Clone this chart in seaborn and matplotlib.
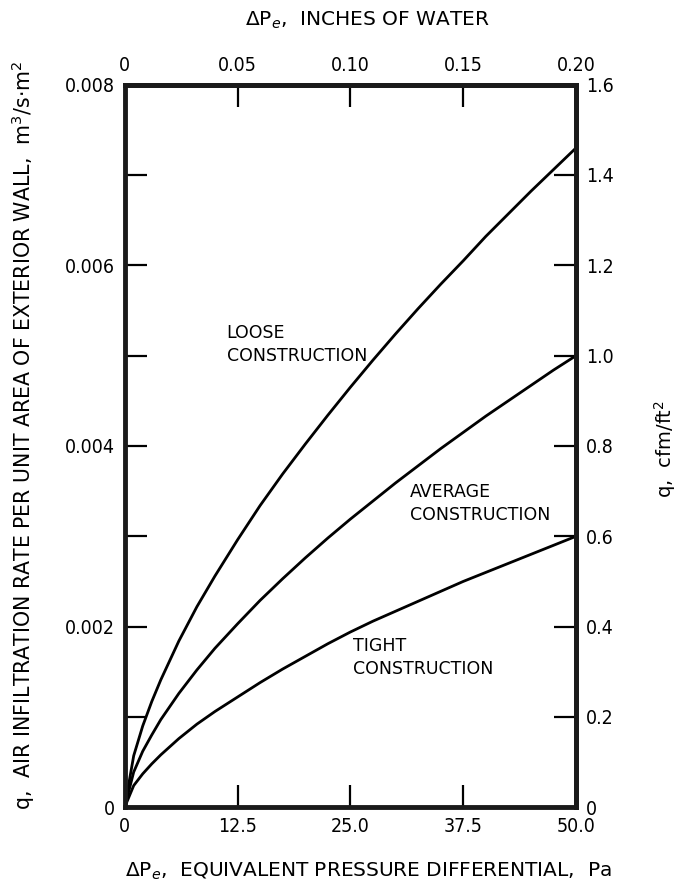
import numpy as np
import pandas as pd
import seaborn as sns
import matplotlib.pyplot as plt

# pressure differential, Pa
dp = [0, 1, 2, 3, 4, 6, 8, 10, 12.5, 15, 17.5, 20, 22.5, 25, 27.5, 30, 32.5, 35, 37.5, 40, 42.5, 45, 47.5, 50]
# air infiltration rate, m3/s.m2
loose = [0, 0.00057, 0.0009, 0.00117, 0.00141, 0.00184, 0.00222, 0.00256, 0.00296, 0.00334, 0.00369, 0.00402,
         0.00434, 0.00465, 0.00495, 0.00524, 0.00552, 0.00579, 0.00605, 0.00632, 0.00657, 0.00682, 0.00706, 0.0073]
average = [0, 0.00039, 0.00062, 0.0008, 0.00097, 0.00126, 0.00152, 0.00176, 0.00203, 0.00229, 0.00253, 0.00276,
           0.00298, 0.00319, 0.00339, 0.00359, 0.00378, 0.00397, 0.00415, 0.00433, 0.0045, 0.00467, 0.00484, 0.005]
tight = [0, 0.00024, 0.00037, 0.00048, 0.00058, 0.00076, 0.00092, 0.00106, 0.00122, 0.00138, 0.00153, 0.00167,
         0.00181, 0.00194, 0.00206, 0.00217, 0.00228, 0.00239, 0.0025, 0.0026, 0.0027, 0.0028, 0.0029, 0.003]

bottom_ticks = [0, 12.5, 25.0, 37.5, 50.0]
bottom_labels = ['0', '12.5', '25.0', '37.5', '50.0']
top_ticks = [0, 0.05, 0.10, 0.15, 0.20]
top_labels = ['0', '0.05', '0.10', '0.15', '0.20']
left_ticks = [0, 0.002, 0.004, 0.006, 0.008]
left_labels = ['0', '0.002', '0.004', '0.006', '0.008']
right_ticks = [0, 0.2, 0.4, 0.6, 0.8, 1.0, 1.2, 1.4, 1.6]
right_labels = ['0', '0.2', '0.4', '0.6', '0.8', '1.0', '1.2', '1.4', '1.6']

df = pd.DataFrame({
    'dp': dp * 3,
    'q': loose + average + tight,
    'kind': ['loose'] * len(dp) + ['average'] * len(dp) + ['tight'] * len(dp),
})

sns.set_style('white')
plt.rcParams['font.family'] = ['DejaVu Sans']
plt.rcParams['text.color'] = 'black'
plt.rcParams['axes.labelcolor'] = 'black'

fig = plt.figure(figsize=(6.85, 8.91), dpi=100)
ax = fig.add_axes([0.182, 0.094, 0.659, 0.811])

sns.lineplot(data=df, x='dp', y='q', hue='kind', palette=['black'] * 3,
             linewidth=2, legend=False, ax=ax)

ax.set_xlim(0, 50)
ax.set_ylim(0, 0.008)

tick_font = dict(fontsize=14, fontstretch='condensed')
ax.set_xticks(bottom_ticks)
ax.set_xticklabels(bottom_labels, **tick_font)
ax.set_yticks(left_ticks)
ax.set_yticklabels(left_labels, **tick_font)
ax.set_yticks([0.001, 0.003, 0.005, 0.007], minor=True)
ax.tick_params(which='both', direction='in', length=16, width=1.6, pad=7,
               left=True, bottom=True, colors='black')

for s in ax.spines.values():
    s.set_linewidth(3.5)
    s.set_color('#1a1a1a')

top = ax.secondary_xaxis('top', functions=(lambda x: x * 0.004, lambda x: x / 0.004))
top.set_xticks(top_ticks)
top.set_xticklabels(top_labels, **tick_font)
top.tick_params(direction='in', length=16, width=1.6, pad=7, top=True, colors='black')
top.spines['top'].set_linewidth(3.5)
top.spines['top'].set_color('#1a1a1a')

right = ax.secondary_yaxis('right', functions=(lambda y: y * 200, lambda y: y / 200))
right.set_yticks(right_ticks)
right.set_yticklabels(right_labels, **tick_font)
right.tick_params(direction='in', length=16, width=1.6, pad=7, right=True, colors='black')
right.spines['right'].set_linewidth(3.5)
right.spines['right'].set_color('#1a1a1a')

ax.set_xlabel(r'$\Delta$P$_e$,  EQUIVALENT PRESSURE DIFFERENTIAL,  Pa', fontsize=14.5)
ax.xaxis.set_label_coords(0.54, -0.074)
ax.set_ylabel(r'q,  AIR INFILTRATION RATE PER UNIT AREA OF EXTERIOR WALL,  m$^3$/s$\cdot$m$^2$',
              fontsize=14.8)
ax.yaxis.set_label_coords(-0.195, 0.515)

# labels of the secondary scales
fig.text(367 / 685, 1 - 20 / 891, r'$\Delta$P$_e$,  INCHES OF WATER', fontsize=14.5,
         ha='center', va='center')
fig.text(665 / 685, 1 - 449 / 891, r'q,  cfm/ft$^2$', fontsize=14, rotation=90,
         ha='center', va='center')

lab = dict(fontsize=12.5, ha='left', va='center', linespacing=1.35)
ax.text(11.3, 0.005125, 'LOOSE\nCONSTRUCTION', **lab)
ax.text(31.6, 0.00336, 'AVERAGE\nCONSTRUCTION', **lab)
ax.text(25.3, 0.00166, 'TIGHT\nCONSTRUCTION', **lab)

fig.savefig('out.png', dpi=100)
